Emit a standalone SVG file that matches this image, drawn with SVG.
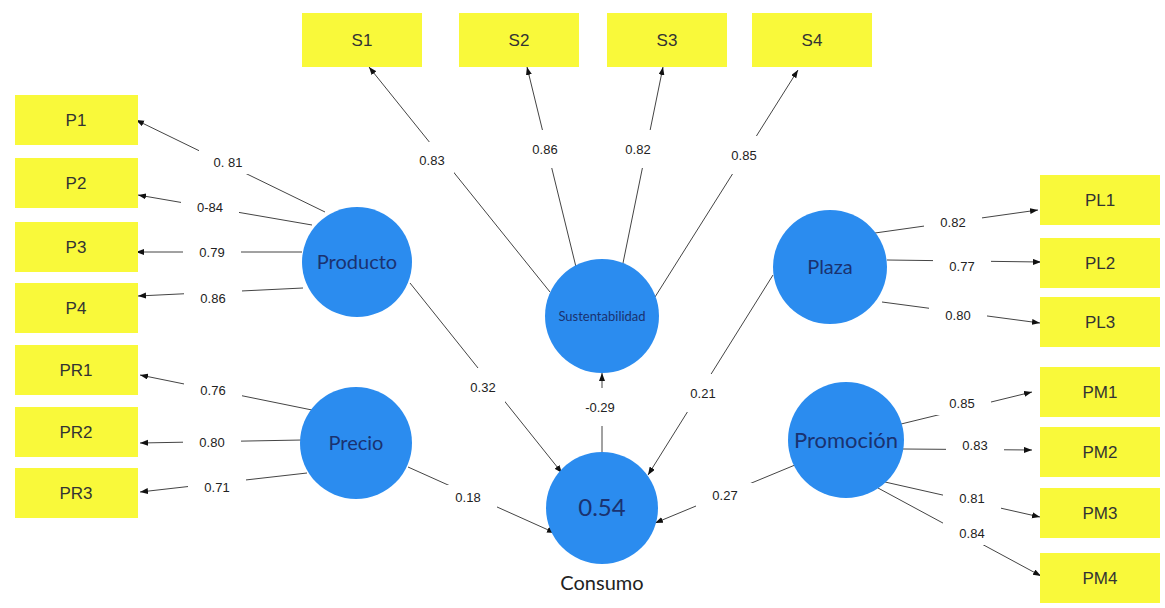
<svg xmlns="http://www.w3.org/2000/svg" width="1165" height="608" viewBox="0 0 1165 608">
<style>
.bx{fill:#f9f93a}
.bt{font-family:"Liberation Sans",Arial,sans-serif;font-size:17px;fill:#333;text-anchor:middle}
.ln{stroke:#444;stroke-width:1;fill:none;marker-end:url(#ah)}
.lb{fill:#fff}
.lt{font-family:"Liberation Sans",Arial,sans-serif;font-size:13px;fill:#222;text-anchor:middle}
.cc{fill:#2b8cef}
.ct{font-family:Lato,"Open Sans",sans-serif;fill:#1a3270;text-anchor:middle}
</style>
<defs>
<marker id="ah" markerWidth="9" markerHeight="7" refX="8" refY="3" orient="auto" markerUnits="userSpaceOnUse">
<path d="M0,0 L8,3 L0,6 z" fill="#111"/>
</marker>
</defs>
<rect width="1165" height="608" fill="#fff"/>

<g id="connectors">
<line class="ln" x1="325" y1="212" x2="136" y2="120"/>
<line class="ln" x1="312" y1="225" x2="138" y2="195"/>
<line class="ln" x1="302" y1="252" x2="136" y2="252"/>
<line class="ln" x1="303" y1="288" x2="138" y2="296"/>
<line class="ln" x1="312" y1="410" x2="140" y2="375"/>
<line class="ln" x1="302" y1="440" x2="140" y2="443"/>
<line class="ln" x1="307" y1="473" x2="140" y2="492"/>
<line class="ln" x1="550" y1="292" x2="369" y2="67"/>
<line class="ln" x1="576" y1="267" x2="527" y2="67"/>
<line class="ln" x1="622" y1="268" x2="663" y2="67"/>
<line class="ln" x1="655" y1="297" x2="798" y2="70"/>
<line class="ln" x1="410" y1="283" x2="562" y2="473"/>
<line class="ln" x1="408" y1="467" x2="555" y2="533"/>
<line class="ln" x1="602" y1="452" x2="602" y2="373"/>
<line class="ln" x1="773" y1="275" x2="648" y2="475"/>
<line class="ln" x1="795" y1="465" x2="655" y2="523"/>
<line class="ln" x1="875" y1="233" x2="1038" y2="210"/>
<line class="ln" x1="887" y1="260" x2="1041" y2="262"/>
<line class="ln" x1="882" y1="302" x2="1040" y2="323"/>
<line class="ln" x1="897" y1="425" x2="1032" y2="392"/>
<line class="ln" x1="903" y1="449" x2="1032" y2="450"/>
<line class="ln" x1="885" y1="482" x2="1040" y2="517"/>
<line class="ln" x1="878" y1="488" x2="1041" y2="576"/>

<rect class="lb" x="199" y="150" width="58" height="24"/>
<rect class="lb" x="181" y="195" width="58" height="24"/>
<rect class="lb" x="183" y="240" width="58" height="24"/>
<rect class="lb" x="184" y="286" width="58" height="24"/>
<rect class="lb" x="184" y="378" width="58" height="24"/>
<rect class="lb" x="183" y="430" width="58" height="24"/>
<rect class="lb" x="188" y="475" width="58" height="24"/>
<rect class="lb" x="410" y="142" width="44" height="38"/>
<rect class="lb" x="523" y="130" width="44" height="38"/>
<rect class="lb" x="616" y="130" width="44" height="38"/>
<rect class="lb" x="722" y="136" width="44" height="38"/>
<rect class="lb" x="461" y="368" width="44" height="38"/>
<rect class="lb" x="439" y="485" width="58" height="24"/>
<rect class="lb" x="578" y="388" width="44" height="38"/>
<rect class="lb" x="681" y="374" width="44" height="38"/>
<rect class="lb" x="696" y="483" width="58" height="24"/>
<rect class="lb" x="924" y="210" width="58" height="24"/>
<rect class="lb" x="933" y="254" width="58" height="24"/>
<rect class="lb" x="929" y="303" width="58" height="24"/>
<rect class="lb" x="933" y="391" width="58" height="24"/>
<rect class="lb" x="946" y="433" width="58" height="24"/>
<rect class="lb" x="943" y="486" width="58" height="24"/>
<rect class="lb" x="943" y="521" width="58" height="24"/>

<text class="lt" x="228" y="167">0. 81</text>
<text class="lt" x="210" y="212">0-84</text>
<text class="lt" x="212" y="257">0.79</text>
<text class="lt" x="213" y="303">0.86</text>
<text class="lt" x="213" y="395">0.76</text>
<text class="lt" x="212" y="447">0.80</text>
<text class="lt" x="217" y="492">0.71</text>
<text class="lt" x="432" y="165">0.83</text>
<text class="lt" x="545" y="154">0.86</text>
<text class="lt" x="638" y="154">0.82</text>
<text class="lt" x="744" y="160">0.85</text>
<text class="lt" x="483" y="392">0.32</text>
<text class="lt" x="468" y="502">0.18</text>
<text class="lt" x="600" y="412">-0.29</text>
<text class="lt" x="703" y="398">0.21</text>
<text class="lt" x="725" y="500">0.27</text>
<text class="lt" x="953" y="227">0.82</text>
<text class="lt" x="962" y="271">0.77</text>
<text class="lt" x="958" y="320">0.80</text>
<text class="lt" x="962" y="408">0.85</text>
<text class="lt" x="975" y="450">0.83</text>
<text class="lt" x="972" y="503">0.81</text>
<text class="lt" x="972" y="538">0.84</text>
</g>

<g id="P1"><rect class="bx" x="15" y="95" width="123" height="50"/><text class="bt" x="76" y="126">P1</text></g>
<g id="P2"><rect class="bx" x="15" y="158" width="123" height="50"/><text class="bt" x="76" y="189">P2</text></g>
<g id="P3"><rect class="bx" x="15" y="222" width="123" height="50"/><text class="bt" x="76" y="253">P3</text></g>
<g id="P4"><rect class="bx" x="15" y="283" width="123" height="50"/><text class="bt" x="76" y="314">P4</text></g>
<g id="PR1"><rect class="bx" x="15" y="345" width="123" height="50"/><text class="bt" x="76" y="376">PR1</text></g>
<g id="PR2"><rect class="bx" x="15" y="407" width="123" height="50"/><text class="bt" x="76" y="438">PR2</text></g>
<g id="PR3"><rect class="bx" x="15" y="468" width="123" height="50"/><text class="bt" x="76" y="499">PR3</text></g>

<g id="S1"><rect class="bx" x="302" y="13" width="120" height="54"/><text class="bt" x="362" y="46">S1</text></g>
<g id="S2"><rect class="bx" x="459" y="13" width="120" height="54"/><text class="bt" x="519" y="46">S2</text></g>
<g id="S3"><rect class="bx" x="607" y="13" width="120" height="54"/><text class="bt" x="667" y="46">S3</text></g>
<g id="S4"><rect class="bx" x="752" y="13" width="120" height="54"/><text class="bt" x="812" y="46">S4</text></g>

<g id="PL1"><rect class="bx" x="1040" y="175" width="120" height="50"/><text class="bt" x="1100" y="206">PL1</text></g>
<g id="PL2"><rect class="bx" x="1040" y="238" width="120" height="50"/><text class="bt" x="1100" y="269">PL2</text></g>
<g id="PL3"><rect class="bx" x="1040" y="297" width="120" height="50"/><text class="bt" x="1100" y="328">PL3</text></g>
<g id="PM1"><rect class="bx" x="1040" y="367" width="120" height="50"/><text class="bt" x="1100" y="398">PM1</text></g>
<g id="PM2"><rect class="bx" x="1040" y="427" width="120" height="50"/><text class="bt" x="1100" y="458">PM2</text></g>
<g id="PM3"><rect class="bx" x="1040" y="488" width="120" height="50"/><text class="bt" x="1100" y="519">PM3</text></g>
<g id="PM4"><rect class="bx" x="1040" y="553" width="120" height="50"/><text class="bt" x="1100" y="584">PM4</text></g>

<g id="Producto"><circle class="cc" cx="357" cy="262" r="55"/><text class="ct" x="357" y="269" font-size="20">Producto</text></g>
<g id="Precio"><circle class="cc" cx="356" cy="443" r="56"/><text class="ct" x="356" y="450" font-size="20">Precio</text></g>
<g id="Sustentabilidad"><circle class="cc" cx="602" cy="316" r="57"/><text class="ct" x="602" y="321" font-size="13">Sustentabilidad</text></g>
<g id="Consumo"><circle class="cc" cx="602" cy="508" r="56"/><text class="ct" x="602" y="516" font-size="24">0.54</text><text x="602" y="590" font-family="Lato,'Open Sans',sans-serif" font-size="20" fill="#222" text-anchor="middle">Consumo</text></g>
<g id="Plaza"><circle class="cc" cx="830" cy="267" r="57"/><text class="ct" x="830" y="274" font-size="20">Plaza</text></g>
<g id="Promocion"><circle class="cc" cx="846" cy="440" r="58"/><text class="ct" x="846" y="448" font-size="22">Promoción</text></g>
</svg>
